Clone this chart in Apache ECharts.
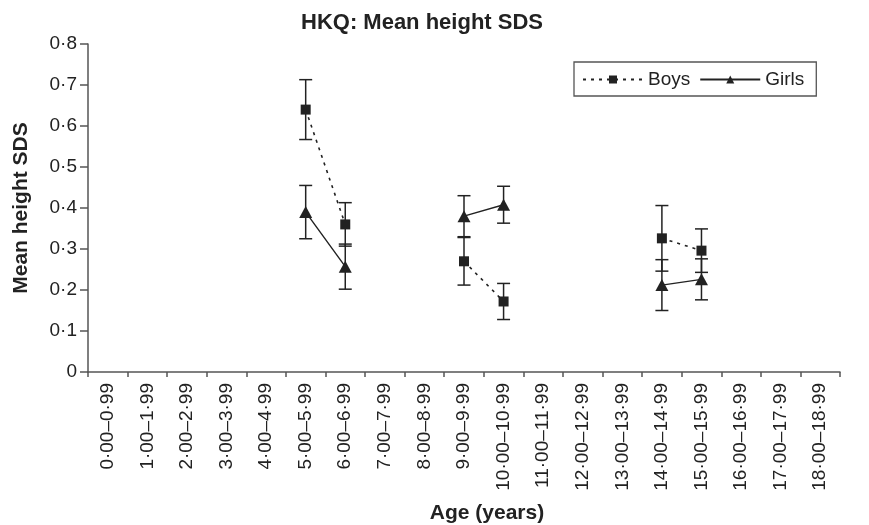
<!DOCTYPE html>
<html>
<head>
<meta charset="utf-8">
<script src="https://cdn.jsdelivr.net/npm/echarts@6/dist/echarts.min.js"></script>
<style>
  html, body { margin: 0; padding: 0; background: #fff; }
  #chart { width: 869px; height: 525px; }
</style>
</head>
<body>
<div id="chart"></div>
<script>
// age groups on the x axis
const ageGroups = [
  '0·00–0·99', '1·00–1·99', '2·00–2·99', '3·00–3·99', '4·00–4·99',
  '5·00–5·99', '6·00–6·99', '7·00–7·99', '8·00–8·99', '9·00–9·99',
  '10·00–10·99', '11·00–11·99', '12·00–12·99', '13·00–13·99', '14·00–14·99',
  '15·00–15·99', '16·00–16·99', '17·00–17·99', '18·00–18·99'
]

// mean height SDS, null = no data
const boysMean = [null, null, null, null, null, 0.64, 0.36, null, null, 0.27, 0.172, null, null, null, 0.326, 0.296, null, null, null]
const boysErr = [null, null, null, null, null, 0.073, 0.053, null, null, 0.058, 0.044, null, null, null, 0.08, 0.053, null, null, null]
const girlsMean = [null, null, null, null, null, 0.39, 0.257, null, null, 0.38, 0.408, null, null, null, 0.212, 0.226, null, null, null]
const girlsErr = [null, null, null, null, null, 0.065, 0.055, null, null, 0.05, 0.045, null, null, null, 0.062, 0.05, null, null, null]

const ink = '#222'
const font = '"Liberation Sans", Arial, sans-serif'

const toBars = (mean, err) => {
  const out = []
  mean.forEach((m, i) => {
    if (m == null) return
    out.push([i, m - err[i], m + err[i]])
  })
  return out
}

// vertical error bar with caps
const renderBar = (params, api) => {
  const top = api.coord([api.value(0), api.value(2)])
  const bot = api.coord([api.value(0), api.value(1)])
  const half = 6.5
  const style = { stroke: ink, lineWidth: 1.5 }
  return {
    type: 'group',
    children: [
      { type: 'line', shape: { x1: top[0], y1: top[1], x2: bot[0], y2: bot[1] }, style },
      { type: 'line', shape: { x1: top[0] - half, y1: top[1], x2: top[0] + half, y2: top[1] }, style },
      { type: 'line', shape: { x1: bot[0] - half, y1: bot[1], x2: bot[0] + half, y2: bot[1] }, style },
    ],
  }
}

const chart = echarts.init(document.getElementById('chart'), null, { renderer: 'canvas' })

chart.setOption({
  animation: false,
  textStyle: { fontFamily: font, color: ink },
  title: {
    text: 'HKQ: Mean height SDS',
    left: 296,
    top: 7,
    textStyle: { fontFamily: font, fontSize: 22, fontWeight: 'bold', color: ink },
  },
  legend: {
    left: 574,
    top: 62,
    padding: [8, 12, 7, 8],
    itemGap: 9,
    itemWidth: 60,
    itemHeight: 10,
    borderColor: '#555',
    borderWidth: 1.3,
    textStyle: { fontFamily: font, fontSize: 19, color: ink },
    data: ['Boys', 'Girls'],
  },
  grid: { left: 88, right: 29, top: 44, bottom: 153, outerBoundsMode: 'none' },
  xAxis: {
    type: 'category',
    data: ageGroups,
    boundaryGap: true,
    name: 'Age (years)',
    nameLocation: 'middle',
    nameGap: 131,
    nameTextStyle: { fontFamily: font, fontSize: 21, fontWeight: 'bold', color: ink, padding: [0, 0, 0, 46] },
    axisLine: { lineStyle: { color: '#555', width: 1.5 } },
    axisTick: { show: true, length: 5, alignWithLabel: false, lineStyle: { color: '#555', width: 1.5 } },
    axisLabel: { interval: 0, rotate: 90, margin: 11, fontSize: 19, color: ink, fontFamily: font },
    splitLine: { show: false },
  },
  yAxis: {
    type: 'value',
    min: 0,
    max: 0.8,
    interval: 0.1,
    name: 'Mean height SDS',
    nameLocation: 'middle',
    nameGap: 56,
    nameRotate: 90,
    nameTextStyle: { fontFamily: font, fontSize: 21, fontWeight: 'bold', color: ink },
    axisLine: { show: true, lineStyle: { color: '#555', width: 1.5 } },
    axisTick: { show: true, length: 8, inside: false, lineStyle: { color: '#555', width: 1.5 } },
    axisLabel: {
      margin: 11,
      fontSize: 19,
      color: ink,
      fontFamily: font,
      formatter: (v) => (v === 0 ? '0' : v.toFixed(1).replace('.', '·')),
    },
    splitLine: { show: false },
  },
  series: [
    {
      name: 'Boys err',
      type: 'custom',
      renderItem: renderBar,
      data: toBars(boysMean, boysErr),
      z: 1,
      silent: true,
    },
    {
      name: 'Girls err',
      type: 'custom',
      renderItem: renderBar,
      data: toBars(girlsMean, girlsErr),
      z: 1,
      silent: true,
    },
    {
      name: 'Boys',
      type: 'line',
      data: boysMean,
      connectNulls: false,
      symbol: 'rect',
      symbolSize: 10,
      showAllSymbol: true,
      itemStyle: { color: ink },
      lineStyle: { color: ink, width: 1.6, type: [3, 5] },
      z: 3,
    },
    {
      name: 'Girls',
      type: 'line',
      data: girlsMean,
      connectNulls: false,
      symbol: 'triangle',
      symbolSize: [13, 12],
      showAllSymbol: true,
      itemStyle: { color: ink },
      lineStyle: { color: ink, width: 1.4 },
      z: 3,
    },
  ],
})
</script>
</body>
</html>
